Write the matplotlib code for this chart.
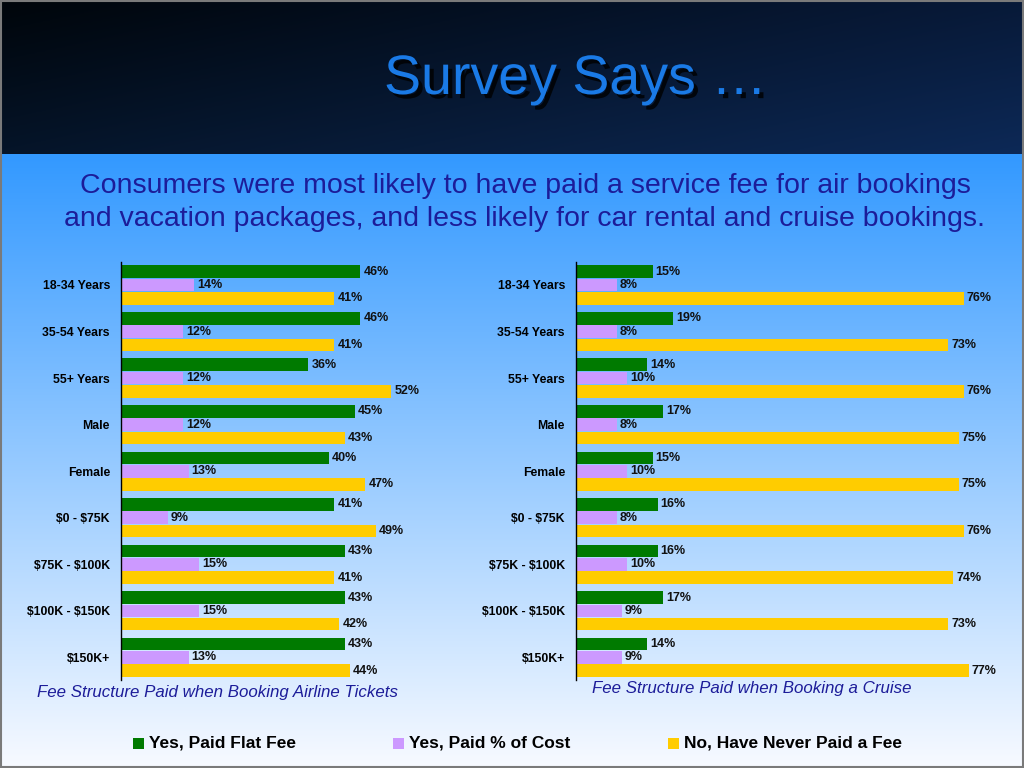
import numpy as np
import matplotlib.pyplot as plt
from matplotlib.patches import Rectangle
import matplotlib.patheffects as pe

plt.rcParams['font.family'] = ['Liberation Sans', 'DejaVu Sans']
plt.rcParams['text.parse_math'] = False

categorias = ["18-34 Years", "35-54 Years", "55+ Years", "Male", "Female",
              "$0 - $75K", "$75K - $100K", "$100K - $150K", "$150K+"]

aereo_fijo = [46, 46, 36, 45, 40, 41, 43, 43, 43]
aereo_pct = [14, 12, 12, 12, 13, 9, 15, 15, 13]
aereo_nunca = [41, 41, 52, 43, 47, 49, 41, 42, 44]

crucero_fijo = [15, 19, 14, 17, 15, 16, 16, 17, 14]
crucero_pct = [8, 8, 10, 8, 10, 8, 10, 9, 9]
crucero_nunca = [76, 73, 76, 75, 75, 76, 74, 73, 77]

series_nombres = ["Yes, Paid Flat Fee", "Yes, Paid % of Cost", "No, Have Never Paid a Fee"]
colores = ["#007a00", "#cc99ff", "#ffcc00"]

W, H = 1024, 768
fig = plt.figure(figsize=(W / 100, H / 100), dpi=100)

# fondo
fondo = fig.add_axes([0, 0, 1, 1])
fondo.set_xlim(0, W)
fondo.set_ylim(H, 0)
fondo.axis('off')

# parte de abajo: degradado azul -> casi blanco
t = np.linspace(0, 1, 300)[:, None]
arriba = np.array([0.20, 0.60, 1.00])
abajo = np.array([0.97, 0.98, 1.00])
grad = (arriba * (1 - t) + abajo * t)[:, None, :].repeat(2, axis=1)
fondo.imshow(grad, extent=[0, W, H, 154], aspect='auto', zorder=0)

# cabecera oscura
ty = np.linspace(0, 1, 80)[:, None]
tx = np.linspace(0, 1, 200)[None, :]
r = 0.00 + 0.03 * tx + 0.02 * ty
g = 0.02 + 0.08 * tx + 0.06 * ty
b = 0.04 + 0.18 * tx + 0.12 * ty
cab = np.stack([r, g, b], axis=2)
fondo.imshow(np.clip(cab, 0, 1), extent=[0, W, 154, 0], aspect='auto', zorder=0)
fondo.add_patch(Rectangle((0.5, 0.5), W - 1.5, H - 1.5, fill=False,
                          edgecolor='#7a7a7a', lw=1.5, zorder=3))

fondo.text(575, 80, "Survey Says …", fontsize=40, color='#1a7ae6',
           ha='center', va='center', zorder=4,
           path_effects=[pe.withSimplePatchShadow(offset=(3, -3), shadow_rgbFace='black', alpha=0.8)])

fondo.text(525, 186, "Consumers were most likely to have paid a service fee for air bookings",
           fontsize=20.5, color='#1c1c99', ha='center', va='center', zorder=4)
fondo.text(525, 219, "and vacation packages, and less likely for car rental and cruise bookings.",
           fontsize=20.5, color='#1c1c99', ha='center', va='center', zorder=4)

fondo.text(37, 693, "Fee Structure Paid when Booking Airline Tickets", fontsize=12.2,
           style='italic', color='#1c1c99', ha='left', va='center', zorder=4)
fondo.text(592, 689, "Fee Structure Paid when Booking a Cruise", fontsize=12.2,
           style='italic', color='#1c1c99', ha='left', va='center', zorder=4)

# leyenda
leyenda_x = [133, 393, 668]
for nombre, color, lx in zip(series_nombres, colores, leyenda_x):
    fondo.add_patch(Rectangle((lx, 738), 11, 11, facecolor=color, edgecolor='none', zorder=4))
    fondo.text(lx + 16, 743.5, nombre, fontsize=12.5, fontweight='bold', color='black',
               ha='left', va='center', zorder=4)


def dibujar(izq_px, xmax, escala, fijo, pct, nunca):
    paso = 3.5
    y_min, y_max = -1.7, (len(categorias) - 1) * paso + 1.7
    alto_px = (y_max - y_min) * 13.3
    abajo_px = 680
    ax = fig.add_axes([izq_px / W, (H - abajo_px) / H, xmax * escala / W, alto_px / H])
    ax.patch.set_alpha(0)
    centros = np.arange(len(categorias)) * paso
    for k, (vals, color) in enumerate(zip([fijo, pct, nunca], colores)):
        ys = centros + (k - 1)
        ax.barh(ys, vals, height=0.95, color=color, edgecolor='none')
        for y, v in zip(ys, vals):
            ax.text(v + 0.6, y, f"{v}%", fontsize=9, fontweight='bold',
                    ha='left', va='center', color='#111111')
    ax.set_ylim(y_max, y_min)
    ax.set_xlim(0, xmax)
    ax.set_yticks(centros)
    ax.set_yticklabels(categorias, fontsize=8.8, fontweight='bold')
    ax.tick_params(axis='y', length=0, pad=8)
    ax.set_xticks([])
    for lado in ['top', 'right', 'bottom']:
        ax.spines[lado].set_visible(False)
    ax.spines['left'].set_color('black')
    ax.spines['left'].set_linewidth(1)
    return ax


dibujar(121, 60, 5.2, aereo_fijo, aereo_pct, aereo_nunca)
dibujar(576, 85, 5.1, crucero_fijo, crucero_pct, crucero_nunca)

fig.savefig("out.png", dpi=100)
